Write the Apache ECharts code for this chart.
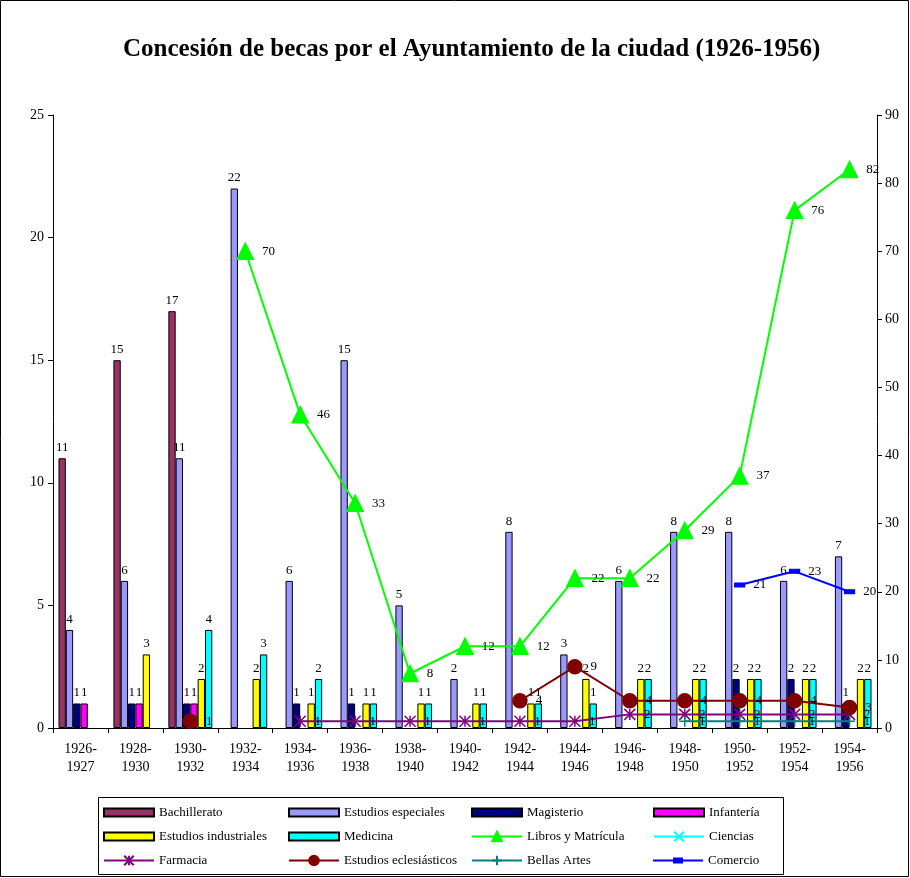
<!DOCTYPE html>
<html><head><meta charset="utf-8">
<script src="https://cdn.jsdelivr.net/npm/echarts@6/dist/echarts.min.js"></script>
<style>html,body{margin:0;padding:0;background:#fff}#c{width:910px;height:878px}</style>
</head><body><div id="c"></div>
<script>
const categories = ['1926-\n1927','1928-\n1930','1930-\n1932','1932-\n1934','1934-\n1936','1936-\n1938','1938-\n1940','1940-\n1942','1942-\n1944','1944-\n1946','1946-\n1948','1948-\n1950','1950-\n1952','1952-\n1954','1954-\n1956'];
const bachillerato        = [11,15,17,'-','-','-','-','-','-','-','-','-','-','-','-'];
const estudiosEspeciales  = [4,6,11,22,6,15,5,2,8,3,6,8,8,6,7];
const magisterio          = [1,1,1,'-',1,1,'-','-','-','-','-','-',2,2,1];
const infanteria          = [1,1,1,'-','-','-','-','-','-','-','-','-','-','-','-'];
const estudiosIndustriales= ['-',3,2,2,1,1,1,1,1,2,2,2,2,2,2];
const medicina            = ['-','-',4,3,2,1,1,1,1,1,2,2,2,2,2];
const librosMatricula     = ['-','-','-',70,46,33,8,12,12,22,22,29,37,76,82];
const ciencias            = ['-','-','-','-','-','-','-','-','-','-','-','-','-','-','-'];
const farmacia            = ['-','-','-','-',1,1,1,1,1,1,2,2,2,2,2];
const eclesiasticos       = ['-','-',1,'-','-','-','-','-',4,9,4,4,4,4,3];
const bellasArtes         = ['-','-','-','-','-','-','-','-','-','-','-',1,1,1,1];
const comercio            = ['-','-','-','-','-','-','-','-','-','-','-','-',21,23,20];
const leftTicks = {min:0,max:25,interval:5};
const rightTicks = {min:0,max:90,interval:10};

const FONT = 'Liberation Serif';
const txt = {fontFamily:FONT,fontSize:13,color:'#000'};
const axTxt = {fontFamily:FONT,fontSize:14,color:'#000'};

function barSeries(name,data,color){
  return {name,type:'bar',data,yAxisIndex:0,barGap:'0%',barCategoryGap:'20%',
    itemStyle:{color,borderColor:'#000',borderWidth:1},
    label:{show:true,position:'top',distance:4,...txt},z:2};
}
function lineSeries(name,data,color,symbol,size){
  return {name,type:'line',data,yAxisIndex:1,symbol,symbolSize:size,
    lineStyle:{color,width:2},itemStyle:{color,borderColor:color,borderWidth:1.5},
    label:{show:true,position:'right',distance:8,...txt},z:5};
}
const starPath='path://M0,0L10,10M10,0L0,10M5,0L5,10';
const xPath='path://M0,0L10,10M10,0L0,10';
const plusPath='path://M5,0L5,10M0,5L10,5';
const series=[
  barSeries('Bachillerato',bachillerato,'#993366'),
  barSeries('Estudios especiales',estudiosEspeciales,'#9999FF'),
  barSeries('Magisterio',magisterio,'#000080'),
  barSeries('Infantería',infanteria,'#FF00FF'),
  barSeries('Estudios industriales',estudiosIndustriales,'#FFFF00'),
  barSeries('Medicina',medicina,'#00FFFF'),
  lineSeries('Libros y Matrícula',librosMatricula,'#00FF00','triangle',16),
  lineSeries('Ciencias',ciencias,'#00FFFF',xPath,9),
  lineSeries('Farmacia',farmacia,'#800080',starPath,11),
  lineSeries('Estudios eclesiásticos',eclesiasticos,'#800000','circle',14),
  lineSeries('Bellas Artes',bellasArtes,'#008080',plusPath,11),
  lineSeries('Comercio',comercio,'#0000FF','rect',[9,4])
];
const names=series.map(s=>s.name);
const colX=[103,288,471,653];
const rowY=[806,830,854];
const comercioIcon='path://M0,5H20V3H30V5H50V7H30V9H20V7H0Z';
const legends=names.map((n,i)=>{
  const l={data:[n],left:colX[i%4],top:rowY[Math.floor(i/4)],itemWidth:50,itemHeight:i<6?8:12,itemGap:0,
    padding:0,textStyle:{...txt},selectedMode:false};
  if(i<6) l.icon='rect';
  if(n==='Comercio'){ l.icon=comercioIcon; l.itemStyle={color:'#0000FF',borderWidth:0}; }
  return l;
});
const chart=echarts.init(document.getElementById('c'),null,{renderer:'canvas'});
chart.setOption({
  animation:false,
  backgroundColor:'#fff',
  title:{text:'Concesión de becas por el Ayuntamiento de la ciudad (1926-1956)',left:118,top:32,
    textStyle:{fontFamily:FONT,fontSize:25,fontWeight:'bold',color:'#000'}},
  grid:{left:53,top:115,width:824,height:613},
  legend:legends,
  xAxis:{type:'category',data:categories,boundaryGap:true,
    axisLine:{lineStyle:{color:'#000',width:1}},
    axisTick:{show:true,length:5,lineStyle:{color:'#000'}},
    axisLabel:{...axTxt,margin:12,lineHeight:18,interval:0}},
  yAxis:[
    {type:'value',...leftTicks,position:'left',splitLine:{show:false},
     axisLine:{show:true,lineStyle:{color:'#000'}},axisTick:{show:true,length:5,lineStyle:{color:'#000'}},
     axisLabel:{...axTxt,margin:9}},
    {type:'value',...rightTicks,position:'right',splitLine:{show:false},
     axisLine:{show:true,lineStyle:{color:'#000'}},axisTick:{show:true,length:5,lineStyle:{color:'#000'}},
     axisLabel:{...axTxt,margin:8}}
  ],
  series,
  graphic:[
    {type:'rect',shape:{x:98.5,y:797.5,width:685,height:77},style:{fill:null,stroke:'#000',lineWidth:1},z:-1,silent:true},
    {type:'rect',shape:{x:0.5,y:0.5,width:908,height:876},style:{fill:null,stroke:'#000',lineWidth:1},z:-1,silent:true}
  ]
});
</script></body></html>
